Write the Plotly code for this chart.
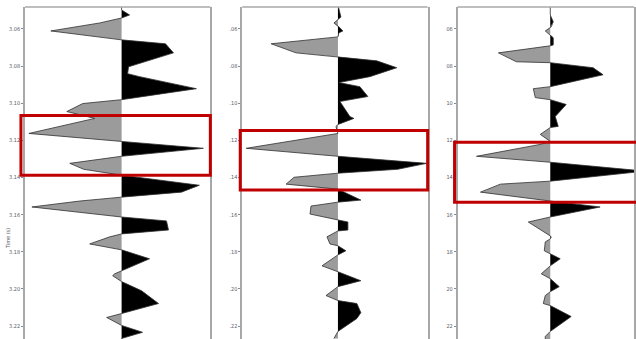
import plotly.graph_objects as go

# ---- data (time in s, amplitude in arbitrary units) ----
t1 = [3.0471, 3.0498, 3.0525, 3.0541, 3.0568, 3.0611, 3.0659, 3.0680, 3.0729, 3.0804,
      3.0841, 3.0857, 3.0922, 3.0981, 3.1002, 3.1045, 3.1082, 3.1163, 3.1206, 3.1243,
      3.1286, 3.1324, 3.1356, 3.1388, 3.1442, 3.1479, 3.1506, 3.1527, 3.1559, 3.1613,
      3.1634, 3.1683, 3.1704, 3.1720, 3.1758, 3.1790, 3.1838, 3.1902, 3.1919, 3.1929,
      3.1961, 3.2010, 3.2079, 3.2133, 3.2154, 3.2197, 3.2234, 3.2267, 3.2294]
a1 = [0, 0, 8, 0, -22, -71, 0, 44, 52, 7,
      6, 18, 75, 0, -39, -55, -27, -93, 0, 82,
      0, -52, -38, 0, 78, 60, 0, -42, -90, 0,
      45, 47, 0, -12, -32, 0, 28, 0, -7, -9,
      0, 20, 37, 0, -15, 0, 21, 0, -5]

t2 = [3.0471, 3.0514, 3.0536, 3.0568, 3.0589, 3.0611, 3.0621, 3.0643, 3.0680, 3.0729,
      3.0750, 3.0772, 3.0809, 3.0857, 3.0889, 3.0911, 3.0964, 3.0991, 3.1072, 3.1082,
      3.1115, 3.1125, 3.1163, 3.1243, 3.1286, 3.1324, 3.1356, 3.1377, 3.1399, 3.1436,
      3.1463, 3.1522, 3.1533, 3.1554, 3.1597, 3.1629, 3.1640, 3.1683, 3.1688, 3.1720,
      3.1758, 3.1768, 3.1795, 3.1817, 3.1876, 3.1908, 3.1956, 3.1988, 3.2036, 3.2063,
      3.2079, 3.2128, 3.2160, 3.2229, 3.2267]
a2 = [0, 2, 3, -4, 1, 5, 1, 0, -67, -42,
      0, 39, 59, 32, 1, 22, 30, 2, 12, 16,
      0, -2, 0, -92, 0, 89, 60, 0, -44, -52,
      0, 23, 0, -27, -28, 0, 10, 10, 0, -11,
      -8, 0, 8, 0, -16, 0, 23, 0, -12, 0,
      19, 23, 19, 0, -4]

t3 = [3.0471, 3.0525, 3.0562, 3.0589, 3.0611, 3.0632, 3.0648, 3.0686, 3.0691, 3.0729,
      3.0777, 3.0782, 3.0809, 3.0847, 3.0911, 3.0922, 3.0970, 3.0981, 3.1007, 3.1072,
      3.1125, 3.1131, 3.1168, 3.1206, 3.1222, 3.1286, 3.1318, 3.1366, 3.1420, 3.1436,
      3.1479, 3.1527, 3.1559, 3.1613, 3.1640, 3.1715, 3.1720, 3.1731, 3.1747, 3.1795,
      3.1811, 3.1838, 3.1876, 3.1919, 3.1945, 3.1988, 3.2015, 3.2036, 3.2079, 3.2090,
      3.2149, 3.2229, 3.2256, 3.2294]
a3 = [0, 0, 3, 1, -5, 0, 3, 3, 0, -52,
      -34, 0, 43, 53, 0, -17, -15, 0, 16, 5,
      8, 0, -10, 0, -10, -74, 0, 95, 0, -50,
      -70, 0, 50, 0, -22, 0, 1, 0, -5, -6,
      0, 10, 0, -9, 0, 9, 0, -5, -7, 0,
      21, 0, -5, -5]

tick_vals = [3.06, 3.08, 3.10, 3.12, 3.14, 3.16, 3.18, 3.20, 3.22]
tick_labels_1 = ["3.06", "3.08", "3.10", "3.12", "3.14", "3.16", "3.18", "3.20", "3.22"]
tick_labels_2 = [".06", ".08", ".10", ".12", ".14", ".16", ".18", ".20", ".22"]
tick_labels_3 = ["06", "08", "10", "12", "14", "16", "18", "20", "22"]

# highlighted windows (time start, time end) per panel
box_t0 = [3.1067, 3.1147, 3.1211]
box_t1 = [3.1388, 3.1468, 3.1533]

panels = [(t1, a1, tick_labels_1), (t2, a2, tick_labels_2), (t3, a3, tick_labels_3)]

# ---- layout geometry ----
W, H = 636, 339
x_dom = [(25 / W, 211 / W), (243 / W, 429 / W), (459 / W, 1.0)]
x_rng = [(-97, 89), (-96, 90), (-93, 84)]
box_x = [(-101, 89), (-98, 90), (-96, 110)]
y_top = 1 - 7 / H
y_range = [3.2270, 3.0482]

FONT = "Liberation Sans Narrow, DejaVu Sans Condensed, Arial Narrow, sans-serif"


def var_area(t, a):
    tt, pos, neg = [], [], []
    for i in range(len(t)):
        if i > 0 and a[i - 1] * a[i] < 0:
            tc = t[i - 1] + (t[i] - t[i - 1]) * a[i - 1] / (a[i - 1] - a[i])
            tt.append(tc); pos.append(0); neg.append(0)
        tt.append(t[i]); pos.append(max(a[i], 0)); neg.append(min(a[i], 0))
    return tt, pos, neg


def t_to_paper(t):
    return (t - y_range[0]) / (y_range[1] - y_range[0]) * y_top


def a_to_paper(a, i):
    d0, d1 = x_dom[i]
    r0, r1 = x_rng[i]
    return d0 + (a - r0) / (r1 - r0) * (d1 - d0)


fig = go.Figure()
shapes = []
for i, (t, a, labels) in enumerate(panels):
    n = "" if i == 0 else str(i + 1)
    xa, ya = "x" + n, "y" + n
    tt, pos, neg = var_area(t, a)
    fig.add_trace(go.Scatter(x=neg, y=tt, xaxis=xa, yaxis=ya, mode="lines",
                             line=dict(width=0), fill="tozerox",
                             fillcolor="#9b9b9b", hoverinfo="skip"))
    fig.add_trace(go.Scatter(x=pos, y=tt, xaxis=xa, yaxis=ya, mode="lines",
                             line=dict(width=0), fill="tozerox",
                             fillcolor="#000000", hoverinfo="skip"))
    fig.add_trace(go.Scatter(x=a, y=t, xaxis=xa, yaxis=ya, mode="lines",
                             line=dict(width=0.8, color="#303030"), hoverinfo="skip"))

    fig.update_layout(**{
        ("xaxis" + n): dict(domain=list(x_dom[i]), range=list(x_rng[i]), visible=False,
                            anchor=ya, fixedrange=True),
        ("yaxis" + n): dict(domain=[0, y_top], range=y_range, anchor=xa,
                            tickmode="array", tickvals=tick_vals, ticktext=labels,
                            ticks="outside", ticklen=2, tickwidth=1, tickcolor="#8a8a8a",
                            showline=True, linecolor="#a8a8a8", linewidth=1.5,
                            mirror=True, showgrid=False, zeroline=False,
                            tickfont=dict(family=FONT, size=5.5, color="#5a5a66"),
                            fixedrange=True),
    })
    # top frame line
    shapes.append(dict(type="line", xref="paper", yref="paper",
                       x0=x_dom[i][0], x1=x_dom[i][1], y0=y_top, y1=y_top,
                       line=dict(color="#a8a8a8", width=1.5)))
    # red highlight window
    shapes.append(dict(type="rect", xref="paper", yref="paper",
                       x0=a_to_paper(box_x[i][0], i), x1=a_to_paper(box_x[i][1], i),
                       y0=t_to_paper(box_t0[i]), y1=t_to_paper(box_t1[i]),
                       line=dict(color="#c00000", width=3), fillcolor="rgba(0,0,0,0)",
                       layer="above"))

fig.update_layout(
    width=W, height=H, margin=dict(l=0, r=0, t=0, b=0),
    paper_bgcolor="white", plot_bgcolor="white", showlegend=False,
    shapes=shapes,
    annotations=[dict(text="Time (s)", x=8 / W, y=1 - 238 / H, xref="paper", yref="paper",
                      xanchor="center", yanchor="middle",
                      textangle=-90, showarrow=False,
                      font=dict(family=FONT, size=5.5, color="#5a5a66"))],
)

fig.write_html("out.html")
